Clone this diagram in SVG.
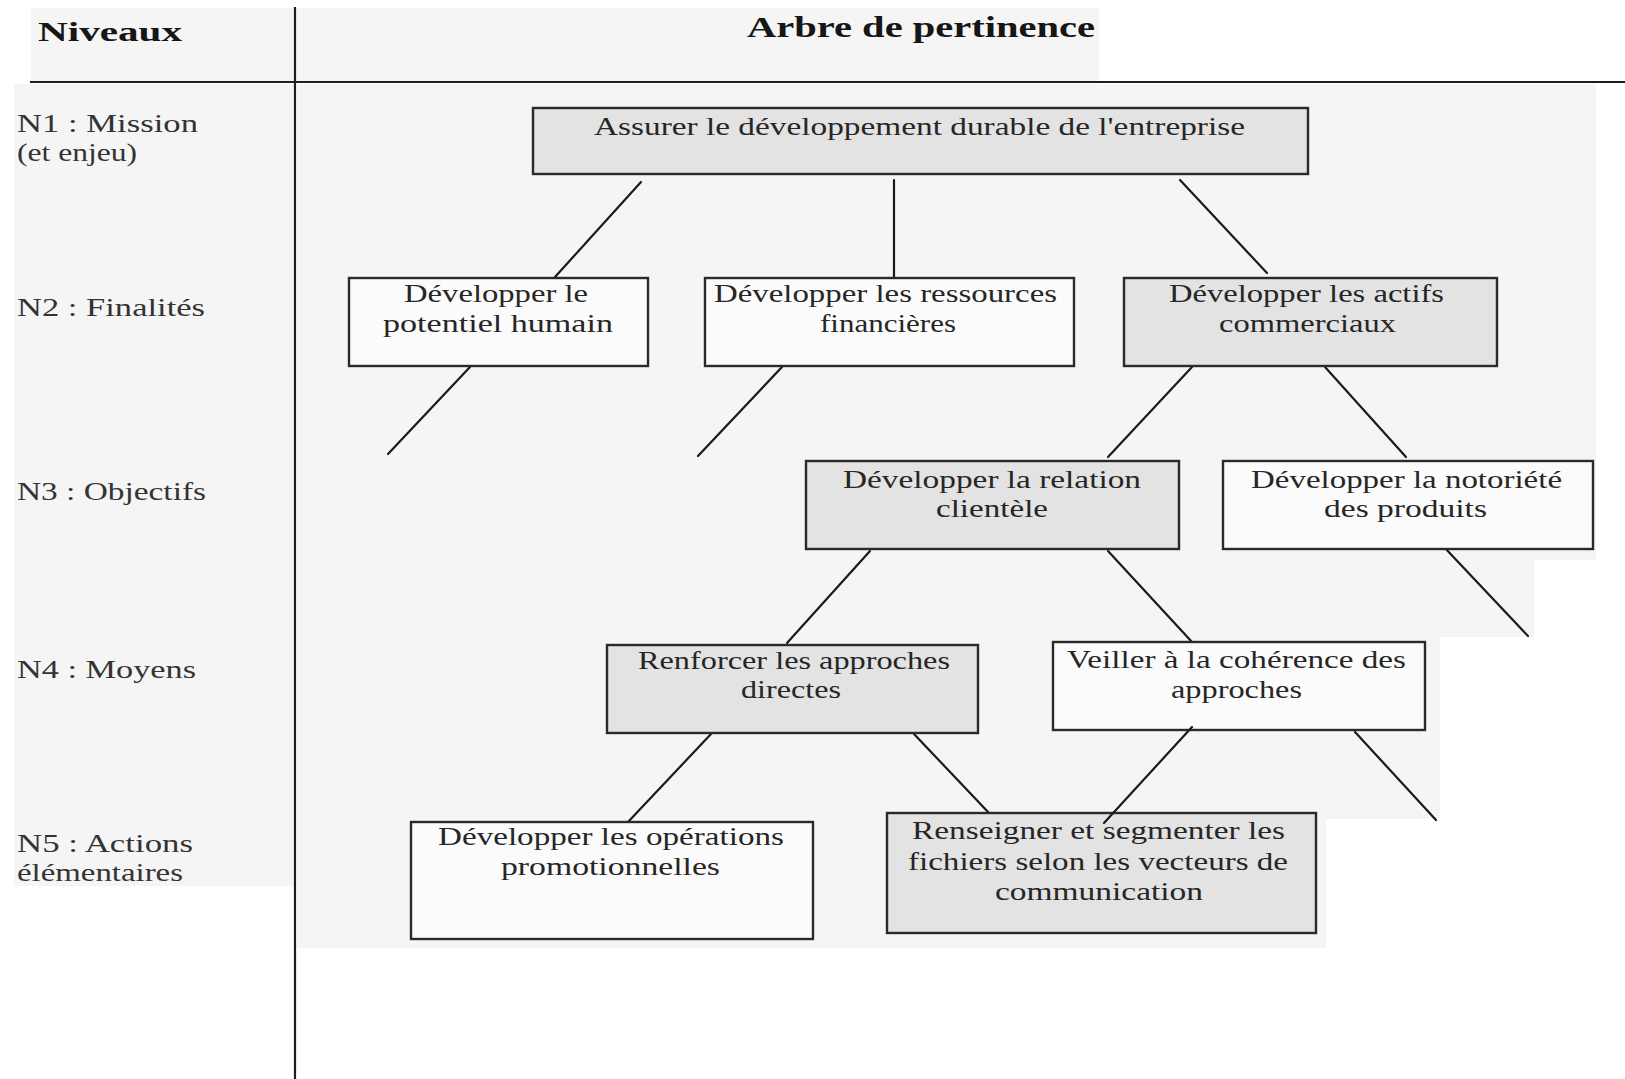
<svg xmlns="http://www.w3.org/2000/svg" width="1625" height="1079" viewBox="0 0 1625 1079">
  <style>
    .tint { fill: #f5f5f5; stroke: none; }
    .rule { stroke: #1e1e1e; stroke-width: 2.2; fill: none; }
    .box { stroke: #2a2a2a; stroke-width: 2.4; }
    .plain { fill: #fbfbfb; }
    .shade { fill: #e3e3e3; }
    .link { stroke: #1a1a1a; stroke-width: 2.2; fill: none; stroke-linecap: round; }
    .head { font-family: "Liberation Serif", "Times New Roman", serif; font-weight: bold; fill: #161616; }
    .lvl { font-family: "Liberation Serif", "Times New Roman", serif; font-size: 25px; fill: #333333; }
    .lbl { font-family: "Liberation Serif", "Times New Roman", serif; font-size: 26px; fill: #262626; }
  </style>

  <!-- page -->
  <rect x="0" y="0" width="1625" height="1079" fill="#ffffff"/>

  <!-- paper tone behind the table -->
  <g id="tone">
    <rect class="tint" x="31" y="8" width="1068" height="73"/>
    <rect class="tint" x="14" y="84" width="280" height="802"/>
    <polygon class="tint" points="297,84 1596,84 1596,560 1534,560 1534,637 1440,637 1440,819 1326,819 1326,948 297,948"/>
  </g>

  <!-- table frame -->
  <g id="frame">
    <line class="rule" x1="295" y1="7" x2="295" y2="1079"/>
    <line class="rule" x1="30" y1="82" x2="1625" y2="82" stroke-width="3"/>
  </g>

  <!-- column headings -->
  <g id="headings">
    <text class="head" x="38" y="41" font-size="28" textLength="144" lengthAdjust="spacingAndGlyphs">Niveaux</text>
    <text class="head" x="747" y="37" font-size="30" textLength="348" lengthAdjust="spacingAndGlyphs">Arbre de pertinence</text>
  </g>

  <!-- level names -->
  <g id="levels">
    <text class="lvl" x="17" y="132" textLength="181" lengthAdjust="spacingAndGlyphs">N1 : Mission</text>
    <text class="lvl" x="17" y="161" textLength="120" lengthAdjust="spacingAndGlyphs">(et enjeu)</text>
    <text class="lvl" x="17" y="316" textLength="188" lengthAdjust="spacingAndGlyphs">N2 : Finalités</text>
    <text class="lvl" x="17" y="500" textLength="189" lengthAdjust="spacingAndGlyphs">N3 : Objectifs</text>
    <text class="lvl" x="17" y="678" textLength="179" lengthAdjust="spacingAndGlyphs">N4 : Moyens</text>
    <text class="lvl" x="17" y="852" textLength="176" lengthAdjust="spacingAndGlyphs">N5 : Actions</text>
    <text class="lvl" x="17" y="881" textLength="166" lengthAdjust="spacingAndGlyphs">élémentaires</text>
  </g>

  <!-- tree branches -->
  <g id="connectors">
    <line class="link" x1="641" y1="182" x2="555" y2="277"/>
    <line class="link" x1="894" y1="180" x2="894" y2="278"/>
    <line class="link" x1="1180" y1="180" x2="1267" y2="273"/>
    <line class="link" x1="470" y1="367" x2="388" y2="454"/>
    <line class="link" x1="782" y1="367" x2="698" y2="456"/>
    <line class="link" x1="1192" y1="367" x2="1108" y2="457"/>
    <line class="link" x1="1325" y1="367" x2="1406" y2="457"/>
    <line class="link" x1="870" y1="551" x2="787" y2="643"/>
    <line class="link" x1="1108" y1="551" x2="1192" y2="642"/>
    <line class="link" x1="1444" y1="547" x2="1528" y2="636"/>
    <line class="link" x1="711" y1="734" x2="628" y2="822"/>
    <line class="link" x1="914" y1="734" x2="989" y2="813"/>
    <line class="link" x1="1355" y1="732" x2="1436" y2="820"/>
  </g>

  <!-- N1 -->
  <g id="mission">
    <rect class="box shade" x="533" y="108" width="775" height="66"/>
    <text class="lbl" x="594" y="135" textLength="651" lengthAdjust="spacingAndGlyphs">Assurer le développement durable de l'entreprise</text>
  </g>

  <!-- N2 -->
  <g id="potentiel-humain">
    <rect class="box plain" x="349" y="278" width="299" height="88"/>
    <text class="lbl" x="404" y="302" textLength="184" lengthAdjust="spacingAndGlyphs">Développer le</text>
    <text class="lbl" x="383" y="332" textLength="230" lengthAdjust="spacingAndGlyphs">potentiel humain</text>
  </g>
  <g id="ressources-financieres">
    <rect class="box plain" x="705" y="278" width="369" height="88"/>
    <text class="lbl" x="714" y="302" textLength="343" lengthAdjust="spacingAndGlyphs">Développer les ressources</text>
    <text class="lbl" x="820" y="332" textLength="136" lengthAdjust="spacingAndGlyphs">financières</text>
  </g>
  <g id="actifs-commerciaux">
    <rect class="box shade" x="1124" y="278" width="373" height="88"/>
    <text class="lbl" x="1169" y="302" textLength="275" lengthAdjust="spacingAndGlyphs">Développer les actifs</text>
    <text class="lbl" x="1219" y="332" textLength="177" lengthAdjust="spacingAndGlyphs">commerciaux</text>
  </g>

  <!-- N3 -->
  <g id="relation-clientele">
    <rect class="box shade" x="806" y="461" width="373" height="88"/>
    <text class="lbl" x="843" y="488" textLength="298" lengthAdjust="spacingAndGlyphs">Développer la relation</text>
    <text class="lbl" x="936" y="517" textLength="112" lengthAdjust="spacingAndGlyphs">clientèle</text>
  </g>
  <g id="notoriete-produits">
    <rect class="box plain" x="1223" y="461" width="370" height="88"/>
    <text class="lbl" x="1251" y="488" textLength="311" lengthAdjust="spacingAndGlyphs">Développer la notoriété</text>
    <text class="lbl" x="1324" y="517" textLength="163" lengthAdjust="spacingAndGlyphs">des produits</text>
  </g>

  <!-- N4 -->
  <g id="approches-directes">
    <rect class="box shade" x="607" y="645" width="371" height="88"/>
    <text class="lbl" x="638" y="669" textLength="312" lengthAdjust="spacingAndGlyphs">Renforcer les approches</text>
    <text class="lbl" x="741" y="698" textLength="100" lengthAdjust="spacingAndGlyphs">directes</text>
  </g>
  <g id="coherence-approches">
    <rect class="box plain" x="1053" y="642" width="372" height="88"/>
    <text class="lbl" x="1067" y="668" textLength="339" lengthAdjust="spacingAndGlyphs">Veiller à la cohérence des</text>
    <text class="lbl" x="1171" y="698" textLength="131" lengthAdjust="spacingAndGlyphs">approches</text>
  </g>

  <!-- N5 -->
  <g id="operations-promotionnelles">
    <rect class="box plain" x="411" y="822" width="402" height="117"/>
    <text class="lbl" x="438" y="845" textLength="346" lengthAdjust="spacingAndGlyphs">Développer les opérations</text>
    <text class="lbl" x="501" y="875" textLength="219" lengthAdjust="spacingAndGlyphs">promotionnelles</text>
  </g>
  <g id="fichiers-segmentes">
    <rect class="box shade" x="887" y="813" width="429" height="120"/>
    <text class="lbl" x="912" y="839" textLength="373" lengthAdjust="spacingAndGlyphs">Renseigner et segmenter les</text>
    <text class="lbl" x="908" y="870" textLength="380" lengthAdjust="spacingAndGlyphs">fichiers selon les vecteurs de</text>
    <text class="lbl" x="995" y="900" textLength="208" lengthAdjust="spacingAndGlyphs">communication</text>
  </g>

  <!-- branch from "Veiller..." drawn over the box edge it overlaps -->
  <g id="connectors-over">
    <line class="link" x1="1192" y1="727" x2="1104" y2="823"/>
  </g>
</svg>
